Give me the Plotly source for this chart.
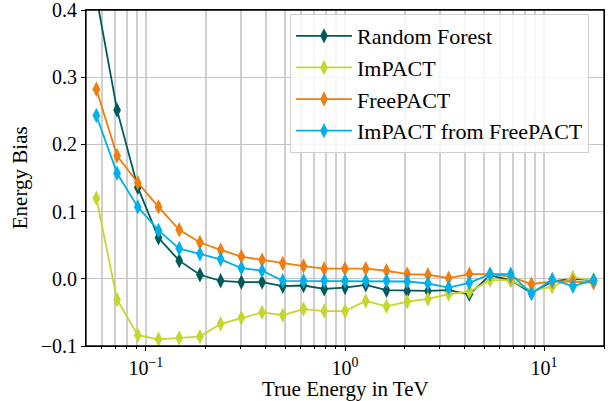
import plotly.graph_objects as go

# Bin centres (TeV)
energy = [0.05637, 0.07163, 0.09102, 0.11567, 0.14698, 0.18677, 0.23734, 0.30159,
          0.38325, 0.48701, 0.61887, 0.78643, 1.0, 1.2716, 1.6159, 2.0533, 2.6093,
          3.3158, 4.2134, 5.3542, 6.8037, 8.6456, 10.986, 13.961, 17.740]

random_forest = [0.42, 0.251, 0.136, 0.061, 0.027, 0.006, -0.003, -0.005, -0.005, -0.011,
                 -0.010, -0.015, -0.013, -0.009, -0.017, -0.018, -0.018, -0.017, -0.023,
                 0.005, -0.002, -0.021, -0.004, 0.000, -0.002]
impact = [0.120, -0.031, -0.084, -0.090, -0.088, -0.086, -0.067, -0.058, -0.050, -0.054,
          -0.045, -0.048, -0.048, -0.033, -0.041, -0.034, -0.030, -0.023, -0.019,
          -0.002, -0.002, -0.018, -0.012, 0.002, -0.002]
freepact = [0.282, 0.183, 0.143, 0.107, 0.073, 0.054, 0.043, 0.033, 0.028, 0.023,
            0.019, 0.015, 0.015, 0.015, 0.012, 0.007, 0.006, 0.001, 0.007,
            0.007, 0.003, -0.008, -0.004, -0.004, -0.006]
impact_from_freepact = [0.243, 0.157, 0.107, 0.072, 0.045, 0.037, 0.029, 0.016, 0.012, -0.003,
                        -0.003, -0.003, -0.003, -0.003, -0.003, -0.004, -0.007, -0.013, -0.006,
                        0.007, 0.007, -0.022, -0.001, -0.011, -0.002]

series_names = ["Random Forest", "ImPACT", "FreePACT", "ImPACT from FreePACT"]
series_values = [random_forest, impact, freepact, impact_from_freepact]
colors = ["#005a5c", "#c6d62c", "#f07d0c", "#00b0ea"]

y_ticks = [-0.1, 0.0, 0.1, 0.2, 0.3, 0.4]
y_ticktext = ["\u22120.1", "0.0", "0.1", "0.2", "0.3", "0.4"]
x_ticks = [0.1, 1, 10]
x_ticktext = ["10<sup>\u22121</sup>", "10<sup>0</sup>", "10<sup>1</sup>"]
x_minor = [0.06, 0.07, 0.08, 0.09, 0.2, 0.3, 0.4, 0.5, 0.6, 0.7, 0.8, 0.9,
           2, 3, 4, 5, 6, 7, 8, 9, 20]

FONT = "Liberation Serif"

fig = go.Figure()
for name, vals, col in zip(series_names, series_values, colors):
    fig.add_trace(go.Scatter(
        x=energy, y=vals, name=name, mode="lines+markers",
        line=dict(color=col, width=1.8),
        marker=dict(symbol="diamond-tall", size=11, color=col),
    ))

fig.update_layout(
    width=616, height=401,
    margin=dict(l=86, r=12, t=10, b=55),
    plot_bgcolor="white", paper_bgcolor="white",
    font=dict(family=FONT, size=20, color="black"),
    showlegend=True,
    legend=dict(
        x=0.971, y=0.988, xanchor="right", yanchor="top",
        bgcolor="rgba(255,255,255,0.85)", bordercolor="#d0d0d0", borderwidth=1,
        font=dict(family=FONT, size=22, color="black"),
        itemwidth=56, tracegroupgap=0,
    ),
    xaxis=dict(
        type="log", range=[-1.30103, 1.30103], automargin=False,
        tickmode="array", tickvals=x_ticks, ticktext=x_ticktext,
        ticks="outside", ticklen=4, tickwidth=1, tickcolor="black",
        showgrid=True, gridcolor="#cfcfcf", gridwidth=1.5,
        showline=True, linecolor="black", linewidth=1, mirror=True,
        zeroline=False, ticklabeloverflow="allow",
        minor=dict(tickvals=x_minor, ticks="outside", ticklen=2, tickcolor="black",
                   showgrid=True, gridcolor="#cfcfcf", gridwidth=1.5),
        tickfont=dict(family=FONT, size=20),
    ),
    yaxis=dict(
        range=[-0.1, 0.4], automargin=False,
        tickmode="array", tickvals=y_ticks, ticktext=y_ticktext,
        ticks="outside", ticklen=4, tickwidth=1, tickcolor="black",
        showgrid=True, gridcolor="#c4c4c4", gridwidth=1.2,
        showline=True, linecolor="black", linewidth=1, mirror=True,
        zeroline=False, ticklabeloverflow="allow",
        tickfont=dict(family=FONT, size=20),
    ),
    shapes=[
        dict(type="rect", xref="paper", yref="paper", x0=0, x1=1, y0=0, y1=1,
             line=dict(color="black", width=1.3), fillcolor="rgba(0,0,0,0)", layer="above"),
    ],
    annotations=[
        dict(text="True Energy in TeV", xref="paper", yref="paper", x=0.5, y=-0.127,
             xanchor="center", yanchor="middle", showarrow=False,
             font=dict(family=FONT, size=21, color="black")),
        dict(text="Energy Bias", xref="paper", yref="paper", x=-0.127, y=0.5,
             xanchor="center", yanchor="middle", textangle=-90, showarrow=False,
             font=dict(family=FONT, size=21, color="black")),
    ],
)

fig.write_html("out.html")
